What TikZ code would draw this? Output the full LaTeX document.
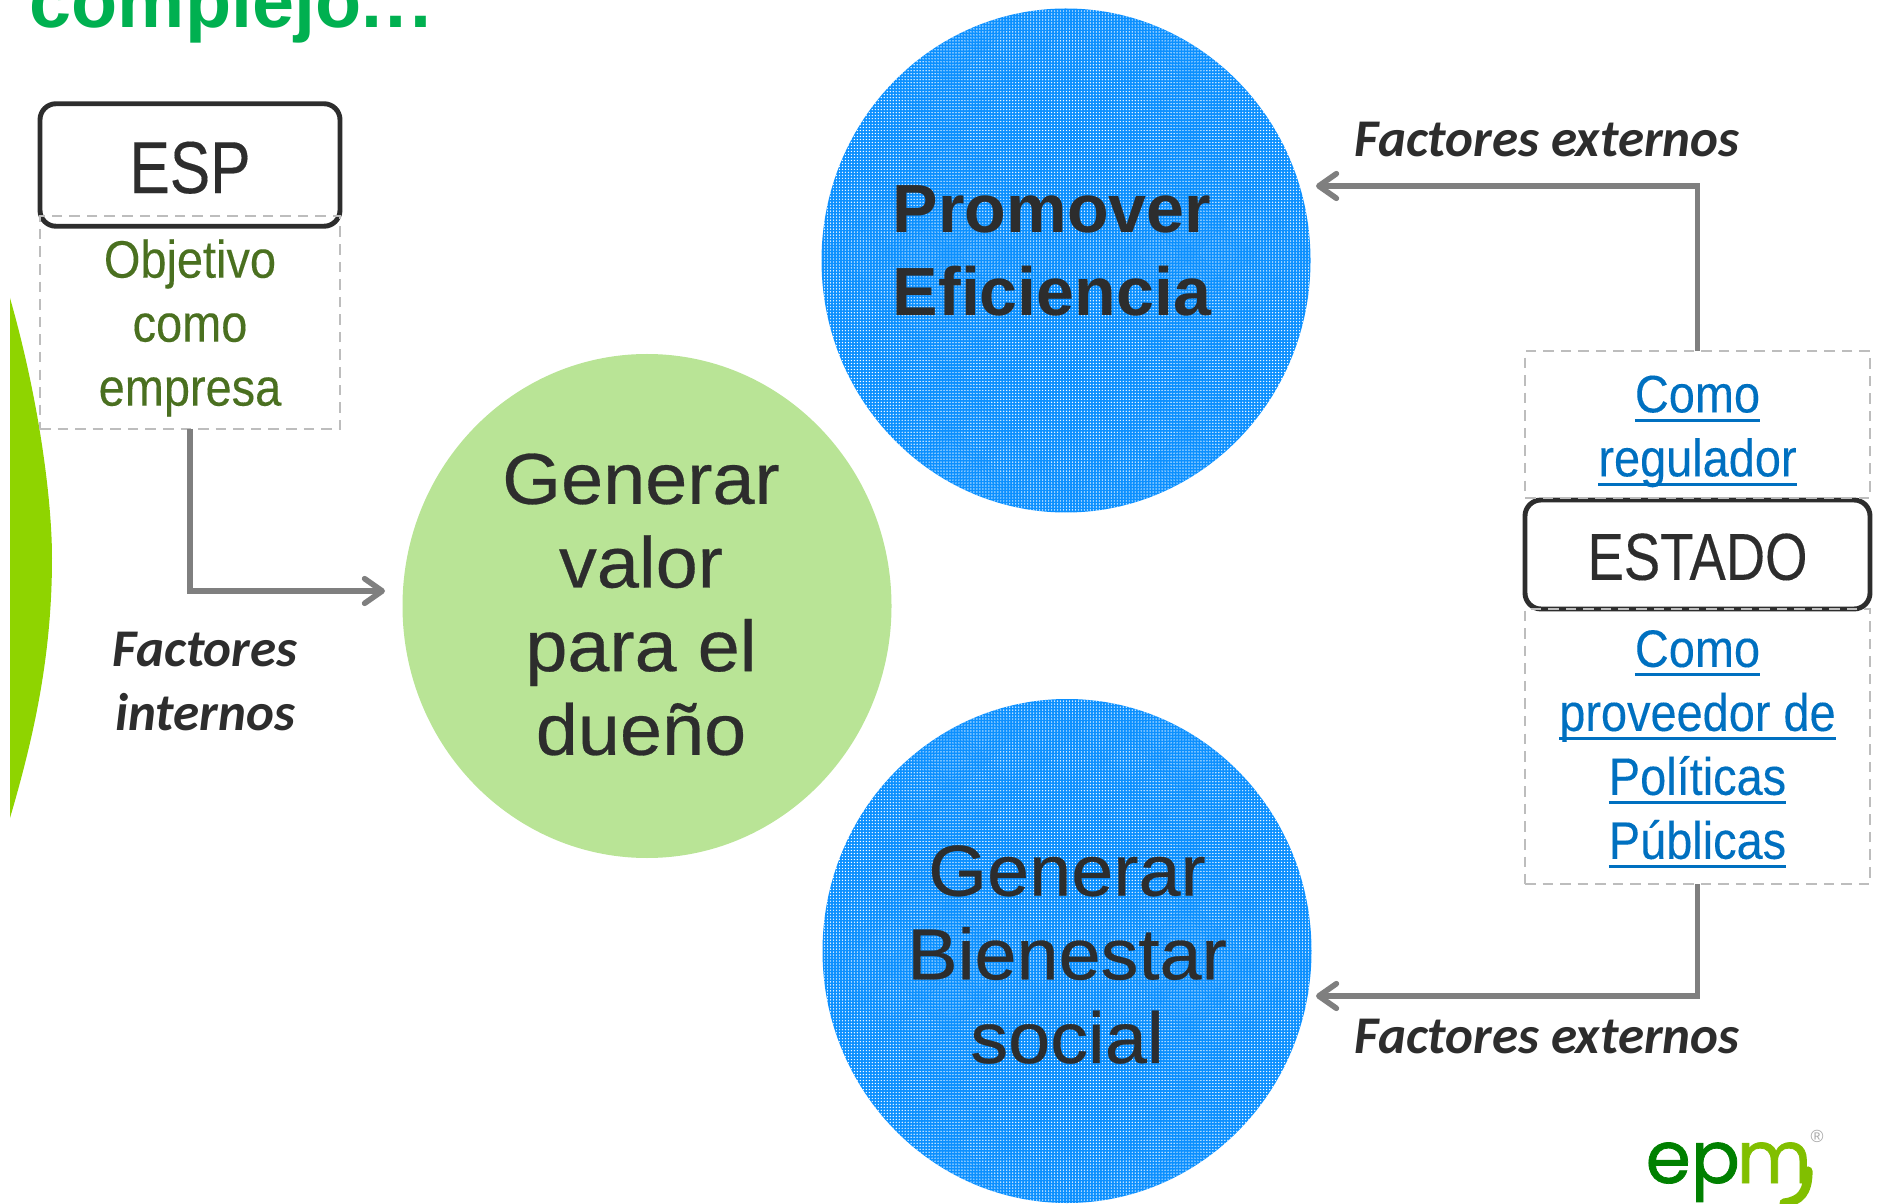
\documentclass[tikz,border=0pt]{standalone}
\usepackage{fontspec}
\setmainfont{Liberation Sans}
\newfontfamily\narrowfont[FakeStretch=0.82,FakeBold=0.2]{Liberation Sans}
\newfontfamily\notefont[FakeStretch=0.89,FakeBold=0.2]{Liberation Sans}
\newfontfamily\widefont[FakeStretch=1.05,FakeBold=0.4]{Liberation Sans}
\newfontfamily\calfont{Carlito}
\newfontfamily\logofont[FakeBold=1]{Poppins}
\usetikzlibrary{arrows.meta,shapes.geometric,patterns.meta}
\definecolor{inkgray}{HTML}{2D2D2D}
\definecolor{titlegreen}{HTML}{00B050}
\definecolor{leafgreen}{HTML}{8FD400}
\definecolor{palegreen}{HTML}{B9E496}
\definecolor{dotblue}{HTML}{0C90FF}
\definecolor{linkblue}{HTML}{0070C0}
\definecolor{olivetext}{HTML}{4A7020}
\definecolor{arrowgray}{HTML}{7F7F7F}
\definecolor{dashgray}{HTML}{BDBDBD}
\newcommand{\linkline}[1]{\setbox0\hbox{#1}\rlap{\rule[-2.7pt]{\wd0}{0.9pt}}\box0}
\tikzset{
  bigcircle/.style={ellipse,minimum width=4.89cm,minimum height=5.04cm,inner sep=0pt,outer sep=0pt},
  bluecircle/.style={bigcircle,fill=dotblue,postaction={pattern={Dots[distance=0.85pt,radius=0.2pt]},pattern color=white}},
  circletext/.style={inner sep=0pt,outer sep=0pt,text=inkgray,align=center,font=\widefont\fontsize{20.5}{23.8}\selectfont},
  titlebox/.style={draw=inkgray,line width=1.4pt,rounded corners=0.16cm,minimum width=3cm,inner sep=0pt,outer sep=0pt,text=inkgray},
  notebox/.style={draw=dashgray,line width=0.6pt,dash pattern=on 3pt off 2pt,inner sep=0pt,outer sep=0pt,align=center,font=\notefont\fontsize{15}{18.2}\selectfont},
  flowarrow/.style={draw=arrowgray,line width=1.6pt,-{Straight Barb[length=5pt,width=7pt,round]}},
  factortext/.style={inner sep=0pt,outer sep=0pt,text=inkgray,align=center,font=\calfont\bfseries\itshape\fontsize{15.08}{18.2}\selectfont},
}
\begin{document}
\begin{tikzpicture}
\useasboundingbox (0,0) rectangle (18.79,12.03);

% Title, cut by the top edge
\node[anchor=base west,inner sep=0pt,text=titlegreen,font=\bfseries\fontsize{21.5}{24}\selectfont] (title) at (0.29,11.75) {complejo.\kern1pt.\kern1pt.};

% Leaf on the left edge
\fill[leafgreen] (0.10,9.05) .. controls (0.40,8.00) and (0.52,7.00) .. (0.52,6.45) .. controls (0.52,5.50) and (0.35,4.70) .. (0.10,3.85) -- cycle;

% Circles
\node[bigcircle,fill=palegreen] (valor) at (6.47,5.97) {};
\node[bluecircle] (eficiencia) at (10.66,9.425) {};
\node[bluecircle] (bienestar) at (10.67,2.52) {};

% Circle texts
\node[circletext] (valortext) at (6.41,5.985) {Generar\\valor\\para el\\dueño};
\node[circletext,font=\bfseries\fontsize{19.4}{23.8}\selectfont] (eficienciatext) at (10.52,9.52) {Promover\\Eficiencia};
\node[circletext] (bienestartext) at (10.67,2.485) {Generar\\Bienestar\\social};

% ESP
\node[titlebox,minimum height=1.225cm,text height=16pt,text depth=0pt,font=\narrowfont\fontsize{21}{24}\selectfont] (esp) at (1.90,10.38) {ESP};
\node[notebox,minimum width=3cm,minimum height=2.13cm,text=olivetext] (espnote) at (1.90,8.805) {\rule{0pt}{14pt}Objetivo\\como\\empresa};

% ESTADO
\node[titlebox,minimum width=3.45cm,minimum height=1.09cm,text height=14.4pt,text depth=0pt,font=\narrowfont\fontsize{18.9}{22}\selectfont] (estado) at (16.975,6.485) {ESTADO};
\node[notebox,minimum width=3.45cm,minimum height=1.47cm,text=linkblue] (regulador) at (16.975,7.785) {\rule{0pt}{14.4pt}\linkline{Como}\\\linkline{regulador}};
\node[notebox,minimum width=3.45cm,minimum height=2.75cm,text=linkblue] (politicas) at (16.975,4.565) {\rule{0pt}{12pt}\linkline{Como}\\\linkline{proveedor de}\\\linkline{Políticas}\\\linkline{Públicas}};

% Arrow ends
\coordinate (interntip) at (3.85,6.12);
\coordinate (toptip) at (13.16,10.17);
\coordinate (lowtip) at (13.16,2.07);

% Arrows
\draw[flowarrow] (espnote.south) |- (interntip);
\draw[flowarrow] (regulador.north) |- (toptip);
\draw[flowarrow] (politicas.south) |- (lowtip);

% Factor labels
\node[factortext] (ftop) at (15.47,10.63) {Factores externos};
\node[factortext] (flow) at (15.47,1.66) {Factores externos};
\node[factortext] (fint) at (2.05,5.215) {Factores\\internos};

% Logo
\node[anchor=base west,inner sep=0pt,text=green!50!black,font=\logofont\fontsize{20.7}{24}\selectfont] (logoep) at (16.45,0.20) {ep};
\node[anchor=base west,inner sep=0pt,text=leafgreen!90!black,font=\logofont\fontsize{20.7}{24}\selectfont] (logom) at (17.36,0.20) {m};
\draw[leafgreen!90!black,line width=2.6pt,line cap=round] (18.08,0.32) .. controls (18.08,0.10) and (18.00,0.02) .. (17.84,0.00);
\node[inner sep=0pt,text=gray!70,font=\fontsize{5}{6}\selectfont] (logor) at (18.17,0.67) {®};
\end{tikzpicture}
\end{document}
